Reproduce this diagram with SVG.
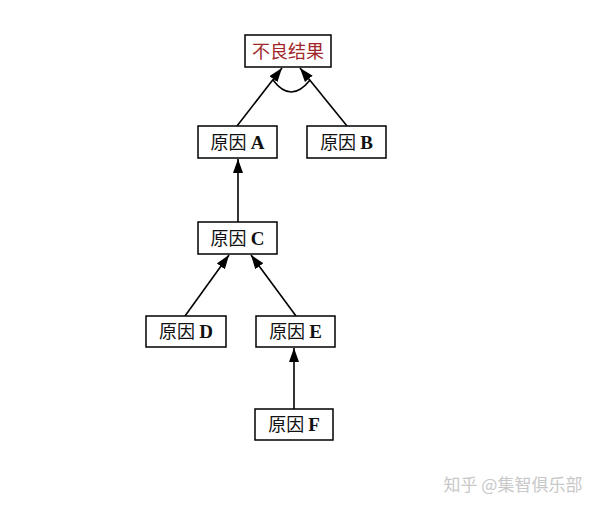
<svg xmlns="http://www.w3.org/2000/svg" width="600" height="509" viewBox="0 0 600 509">
<style>
.box{fill:#fff;stroke:#000;stroke-width:1.5}
.t{font-family:"Noto Sans CJK SC",sans-serif;font-size:18px;fill:#111;text-anchor:middle}
.l{font-family:"Liberation Serif",serif;font-weight:bold;font-size:19px}
.c{stroke:#000;stroke-width:1.6;fill:none}
</style>
<defs>
<marker id="ah" viewBox="0 0 14 10" refX="14" refY="5" markerWidth="14" markerHeight="10" markerUnits="userSpaceOnUse" orient="auto">
<path d="M0,0 L14,5 L0,10 z" fill="#000"/>
</marker>
</defs>
<rect width="600" height="509" fill="#fff"/>
<g id="connectors">
<line class="c" x1="237" y1="126" x2="282" y2="68" marker-end="url(#ah)"/>
<line class="c" x1="347" y1="126" x2="300" y2="68" marker-end="url(#ah)"/>
<path class="c" d="M273,80 Q291,104 310,80"/>
<line class="c" x1="238" y1="222" x2="238" y2="159" marker-end="url(#ah)"/>
<line class="c" x1="185" y1="316" x2="229" y2="255" marker-end="url(#ah)"/>
<line class="c" x1="296" y1="316" x2="251" y2="255" marker-end="url(#ah)"/>
<line class="c" x1="294" y1="409" x2="294" y2="348" marker-end="url(#ah)"/>
</g>
<g id="result"><rect class="box" x="245" y="35" width="86" height="32"/><text class="t" x="288" y="57.5" style="fill:#a0282a">不良结果</text></g>
<g id="causeA"><rect class="box" x="198" y="126" width="79" height="32"/><text class="t" x="237.5" y="148.5">原因 <tspan class="l">A</tspan></text></g>
<g id="causeB"><rect class="box" x="307" y="126" width="79" height="32"/><text class="t" x="346.5" y="148.5">原因 <tspan class="l">B</tspan></text></g>
<g id="causeC"><rect class="box" x="198" y="222" width="79" height="32"/><text class="t" x="237.5" y="244.5">原因 <tspan class="l">C</tspan></text></g>
<g id="causeD"><rect class="box" x="146" y="316" width="80" height="31"/><text class="t" x="186" y="338">原因 <tspan class="l">D</tspan></text></g>
<g id="causeE"><rect class="box" x="256" y="316" width="79" height="31"/><text class="t" x="295.5" y="338">原因 <tspan class="l">E</tspan></text></g>
<g id="causeF"><rect class="box" x="255" y="409" width="78" height="31"/><text class="t" x="294" y="431">原因 <tspan class="l">F</tspan></text></g>
<text x="513" y="491" style="font-family:'Noto Sans CJK SC',sans-serif;font-size:17px;fill:#c8c8c8;text-anchor:middle">知乎 @集智俱乐部</text>
</svg>
